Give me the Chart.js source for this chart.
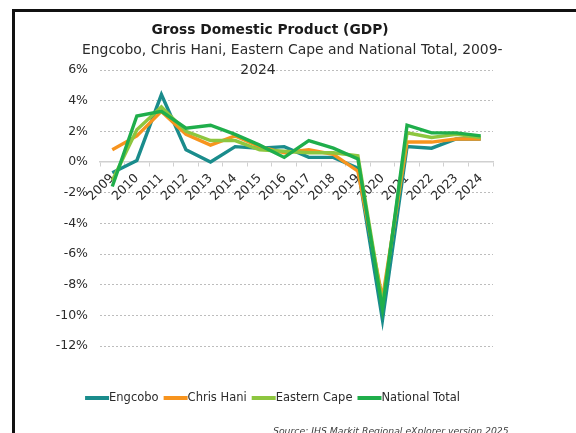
<!DOCTYPE html>
<html><head><meta charset="utf-8">
<script src="https://cdn.jsdelivr.net/npm/chart.js@4.4.1/dist/chart.umd.min.js"></script>
<style>
html,body{margin:0;padding:0;background:#fff;overflow:hidden}
#wrap{position:relative;width:576px;height:433px;overflow:hidden}
#frame{position:absolute;left:12px;top:9px;width:620px;height:520px;border-left:3px solid #111;border-top:3px solid #111;box-sizing:border-box}
canvas{position:absolute;left:0;top:0}
</style></head><body>
<div id="wrap"><div id="frame"></div><canvas id="c" width="576" height="433"></canvas></div>
<script>
const categories = ['2009','2010','2011','2012','2013','2014','2015','2016','2017','2018','2019','2020','2021','2022','2023','2024'];
const engcobo      = [-0.7, 0.1, 4.4, 0.8, 0.0, 1.0, 0.9, 1.0, 0.3, 0.3, -0.4, -10.3, 1.0, 0.9, 1.5, 1.5];
const chrisHani    = [ 0.8, 1.7, 3.3, 1.8, 1.1, 1.7, 1.0, 0.6, 0.8, 0.5, -0.6,  -8.9, 1.3, 1.3, 1.5, 1.5];
const easternCape  = [-1.2, 2.1, 3.6, 2.0, 1.4, 1.4, 0.8, 0.7, 0.6, 0.6,  0.4,  -9.3, 1.9, 1.6, 1.8, 1.6];
const nationalTotal= [-1.6, 3.0, 3.3, 2.2, 2.4, 1.8, 1.1, 0.3, 1.4, 0.9,  0.2,  -9.6, 2.4, 1.9, 1.9, 1.7];
const seriesNames  = ['Engcobo','Chris Hani','Eastern Cape','National Total'];
const seriesColors = ['#1a8c8c','#f7941e','#8dc63f','#1fae4b'];
const yMin = -12, yMax = 6, yStep = 2;
const titleText = 'Gross Domestic Product (GDP)';
const subtitleLines = ['Engcobo, Chris Hani, Eastern Cape and National Total, 2009-', '2024'];
const sourceText = 'Source: IHS Markit Regional eXplorer version 2025';

const FONT = '"DejaVu Sans", Verdana, sans-serif';
const seriesData = [engcobo, chrisHani, easternCape, nationalTotal];

const datasets = seriesData.map((d, i) => ({
  label: seriesNames[i],
  data: d,
  borderColor: seriesColors[i],
  backgroundColor: seriesColors[i],
  borderWidth: 3.4,
  pointRadius: 0,
  pointHoverRadius: 0,
  tension: 0,
  order: 4 - i,
  borderJoinStyle: 'miter'
}));

const textPlugin = {
  id: 'texts',
  afterDraw(chart) {
    const ctx = chart.ctx;
    ctx.save();
    ctx.fillStyle = '#1a1a1a';
    ctx.textBaseline = 'middle';
    ctx.textAlign = 'center';
    ctx.font = 'bold 13.8px ' + FONT;
    ctx.fillText(titleText, 270, 30);
    ctx.fillStyle = '#2b2b2b';
    ctx.font = '13.9px ' + FONT;
    ctx.textAlign = 'left';
    ctx.fillText(subtitleLines[0], 82, 50);
    ctx.textAlign = 'center';
    ctx.fillText(subtitleLines[1], 258, 70);
    // legend
    ctx.font = '11.5px ' + FONT;
    const lineLen = 24, gap = 5;
    const items = chart.data.datasets.map(ds => ({label: ds.label, color: ds.borderColor, w: ctx.measureText(ds.label).width}));
    let total = items.reduce((s, it) => s + lineLen + it.w, 0) + gap * (items.length - 1);
    let x = 272.5 - total / 2;
    const ly = 398;
    ctx.textAlign = 'left';
    items.forEach(it => {
      ctx.strokeStyle = it.color;
      ctx.lineWidth = 4;
      ctx.beginPath();
      ctx.moveTo(x, ly);
      ctx.lineTo(x + lineLen, ly);
      ctx.stroke();
      ctx.fillStyle = '#2b2b2b';
      ctx.fillText(it.label, x + lineLen, ly);
      x += lineLen + it.w + gap;
    });
    // source
    ctx.font = 'italic 9.3px ' + FONT;
    ctx.fillStyle = '#404040';
    ctx.textAlign = 'left';
    ctx.textBaseline = 'alphabetic';
    ctx.fillText(sourceText, 273, 434);
    ctx.restore();
  }
};

new Chart(document.getElementById('c'), {
  type: 'line',
  data: { labels: categories, datasets },
  options: {
    responsive: false,
    animation: false,
    devicePixelRatio: 1,
    layout: { padding: { left: 15, right: 83, top: 70, bottom: 87 } },
    plugins: { legend: { display: false }, title: { display: false }, tooltip: { enabled: false } },
    scales: {
      x: {
        type: 'category',
        offset: true,
        position: { y: 0 },
        grid: { display: true, offset: true, drawOnChartArea: false, drawTicks: true, tickLength: 4, color: '#d0d0d0', lineWidth: 1 },
        border: { display: true, color: '#d0d0d0', width: 1.5 },
        ticks: { autoSkip: false, minRotation: 45, maxRotation: 45, padding: 5, color: '#2b2b2b', font: { family: FONT, size: 12.5 } }
      },
      y: {
        min: yMin, max: yMax,
        afterFit(scale) { scale.width = 85; },
        ticks: { stepSize: yStep, padding: 12, color: '#2b2b2b', font: { family: FONT, size: 12.5 }, callback: v => v + '%' },
        grid: { drawTicks: false, color: ctx => (ctx.tick && ctx.tick.value === 0) ? 'rgba(0,0,0,0)' : '#bdbdbd', lineWidth: 1 },
        border: { display: false, dash: [2, 2] }
      }
    }
  },
  plugins: [textPlugin]
});
</script>
</body></html>
